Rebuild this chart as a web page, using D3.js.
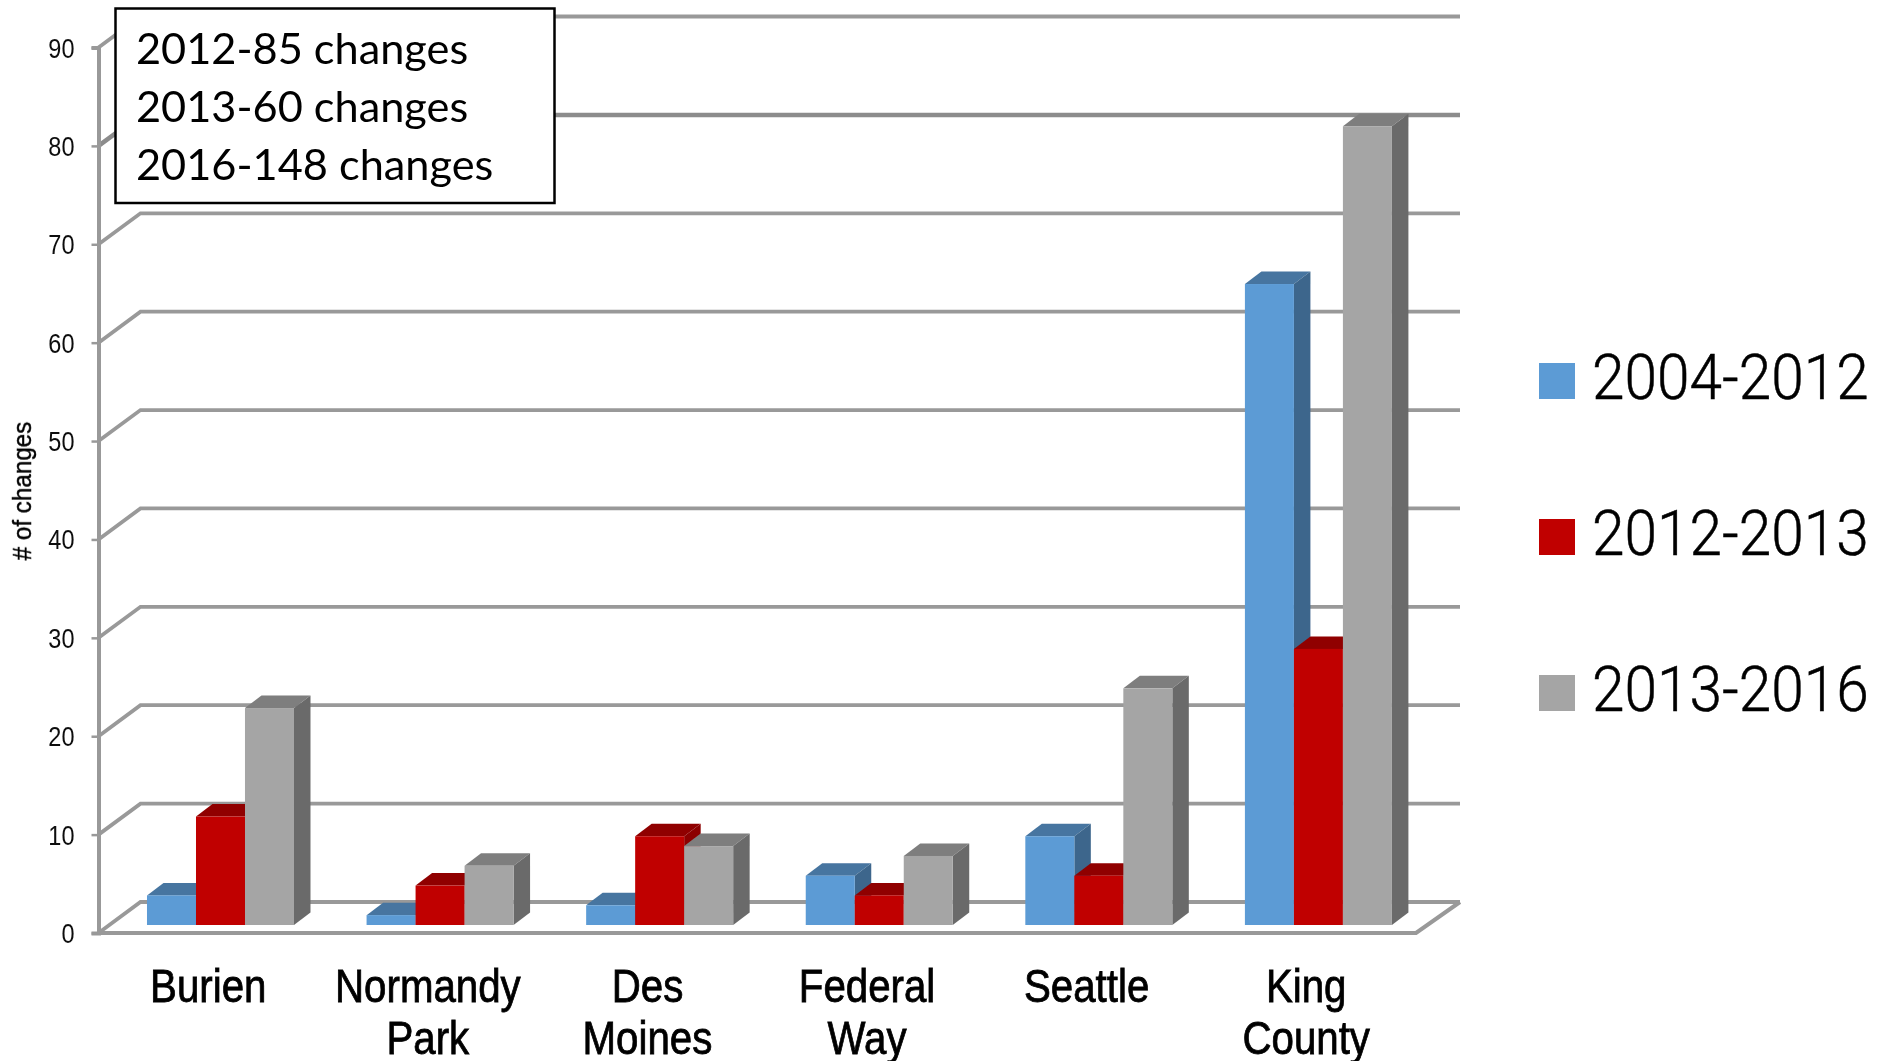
<!DOCTYPE html>
<html><head><meta charset="utf-8">
<script src="https://cdn.jsdelivr.net/npm/d3@7/dist/d3.min.js"></script>
<style>html,body{margin:0;padding:0;background:#fff}svg{display:block}</style>
</head><body><svg id="c" width="1878" height="1061"></svg>
<script>
const categories = ["Burien","Normandy Park","Des Moines","Federal Way","Seattle","King County"];
const seriesNames = ["2004-2012","2012-2013","2013-2016"];
const values2004 = [3,1,2,5,9,65];
const values2012 = [11,4,9,3,5,28];
const values2013 = [22,6,8,7,24,81];
const yTicks = [0,10,20,30,40,50,60,70,80,90];
const noteLines = ["2012-85 changes","2013-60 changes","2016-148 changes"];
const yTitle = "# of changes";
const faces = [
  {front:"#5b9bd5",top:"#4675a0",side:"#3d668c"},
  {front:"#c00000",top:"#900000",side:"#8c0000"},
  {front:"#a5a5a5",top:"#7e7e7e",side:"#6b6b6b"}];
const seriesValues=[values2004,values2012,values2013];

const svg=d3.select("#c");
const defs=svg.append("defs");
defs.append("filter").attr("id","soft").attr("x","-2%").attr("y","-2%").attr("width","104%").attr("height","104%")
  .append("feGaussianBlur").attr("stdDeviation",0.6);
const root=svg.append("g").attr("filter","url(#soft)");

const y=d3.scaleLinear().domain([0,90]).range([933,47.5]);
const x=d3.scaleBand().domain(categories).range([98.5,1416]);
const DX=42,DY=31,LINE="#999999";
const barW=49,bdx=16.5,bdy=12.5,floorY=925,barStart=-61.3;
const barY=d3.scaleLinear().domain([0,90]).range([floorY,floorY-887.5]);

const grid=root.append("g").attr("fill","none").attr("stroke",LINE);
grid.selectAll("path").data(yTicks).join("path")
 .attr("d",t=>d3.line()([[x.range()[0],y(t)],[x.range()[0]+DX,y(t)-DY],[x.range()[1]+DX+2,y(t)-DY]]))
 .attr("stroke",t=>t===80?"#8c8c8c":LINE).attr("stroke-width",t=>t===80?4.5:3.8);
grid.append("path").attr("d",d3.line()([[x.range()[1]+DX+2,y(0)-DY],[x.range()[1],y(0)],[x.range()[0],y(0)]])).attr("stroke-width",4);

const gs=root.selectAll("g.cat").data(categories).join("g").attr("class","cat")
 .attr("transform",c=>`translate(${x(c)+x.bandwidth()/2+barStart},0)`);
gs.each(function(c,i){
  const g=d3.select(this);
  seriesValues.forEach((vals,s)=>{
    const x0=s*barW,x1=x0+barW,yt=barY(vals[i]),f=faces[s];
    g.append("path").attr("fill",f.top).attr("d",d3.line()([[x0,yt],[x0+bdx,yt-bdy],[x1+bdx,yt-bdy],[x1,yt]])+"Z");
    g.append("path").attr("fill",f.side).attr("d",d3.line()([[x1,yt],[x1+bdx,yt-bdy],[x1+bdx,floorY-bdy],[x1,floorY]])+"Z");
    g.append("rect").attr("x",x0).attr("y",yt).attr("width",barW).attr("height",floorY-yt).attr("fill",f.front);
  });
});

const ax=root.append("g").attr("transform",`translate(${x.range()[0]},0)`)
 .call(d3.axisLeft(y).tickValues(yTicks).tickSize(7).tickPadding(0).tickFormat(d3.format("d")));
ax.select(".domain").attr("stroke",LINE).attr("stroke-width",4);
ax.selectAll(".tick line").attr("stroke",LINE).attr("stroke-width",2.5);
ax.selectAll(".tick text").text(null);
const SANS="'Liberation Sans',sans-serif";
yTicks.forEach(t=>{
  root.append("text").text(t).attr("text-anchor","end").attr("font-family",SANS)
   .attr("font-size",28).attr("fill","#111").attr("transform",`translate(74.5,${y(t)+10}) scale(.84,1)`);
});
root.append("text").text(yTitle).attr("text-anchor","middle").attr("font-family",SANS)
 .attr("font-size",25).attr("fill","#000").attr("stroke","#000").attr("stroke-width",.4)
 .attr("transform","translate(31,491) rotate(-90) scale(.97,1)");

categories.forEach(c=>{
  const cx=x(c)+x.bandwidth()/2;
  c.split(" ").forEach((w,k)=>{
    root.append("text").text(w).attr("text-anchor","middle").attr("font-family",SANS)
     .attr("font-size",46).attr("fill","#000").attr("stroke","#000").attr("stroke-width",.8)
     .attr("transform",`translate(${cx},${1001.5+k*52.5}) scale(.875,1)`);
  });
});

seriesNames.forEach((n,i)=>{
  const by=399+i*156;
  root.append("rect").attr("x",1539).attr("y",by-36).attr("width",36).attr("height",36).attr("fill",faces[i].front);
  root.append("text").text(n).attr("font-family","Roboto,sans-serif").attr("font-weight",300).attr("font-size",63).attr("fill","#000")
   .attr("stroke","#000").attr("stroke-width",.5)
   .attr("transform",`translate(1592,${by}) scale(.93,1)`);
});

root.append("rect").attr("x",115.5).attr("y",8.5).attr("width",439).attr("height",194.5)
 .attr("fill","#fff").attr("stroke","#000").attr("stroke-width",2.5);
noteLines.forEach((l,i)=>{
  root.append("text").text(l).attr("font-family","Lato,sans-serif").attr("font-size",43.3).attr("fill","#000")
   .attr("x",136).attr("y",64+i*58);
});
</script></body></html>
